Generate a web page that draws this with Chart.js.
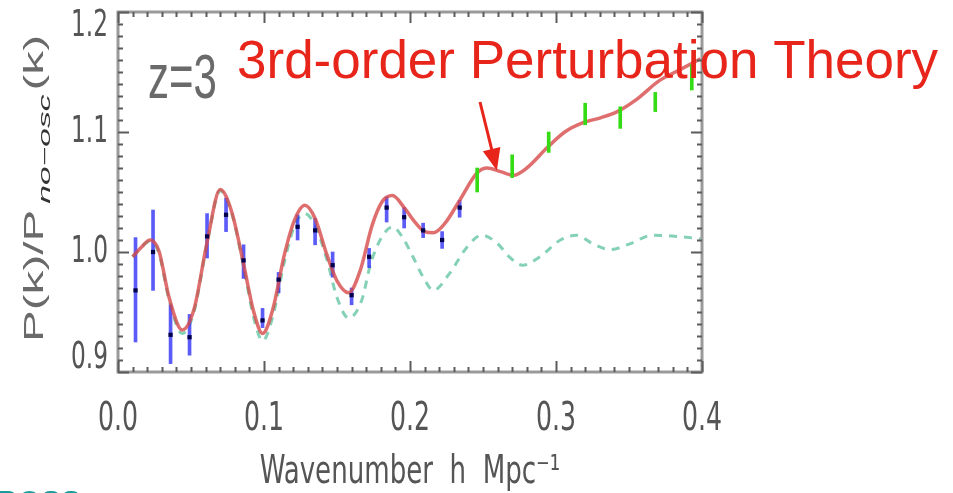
<!DOCTYPE html>
<html>
<head>
<meta charset="utf-8">
<script src="https://cdn.jsdelivr.net/npm/chart.js@4"></script>
<style>
  body { margin: 0; background: #fff; }
  canvas { display: block; }
</style>
</head>
<body>
<canvas id="chart" width="953" height="493"></canvas>
<script>
// 3rd-order PT prediction (solid red)
const kPT = [0.010, 0.016, 0.022, 0.028, 0.035, 0.044, 0.052, 0.061, 0.070, 0.078, 0.086, 0.093, 0.099, 0.106, 0.114, 0.121, 0.128, 0.135, 0.143, 0.150, 0.158, 0.166, 0.174, 0.181, 0.188, 0.196, 0.204, 0.210, 0.216, 0.224, 0.234, 0.246, 0.253, 0.262, 0.271, 0.280, 0.294, 0.306, 0.319, 0.331, 0.342, 0.355, 0.371, 0.385, 0.399];
const pPT = [0.996, 1.004, 1.010, 1.001, 0.962, 0.935, 0.952, 1.008, 1.052, 1.033, 0.990, 0.950, 0.932, 0.952, 0.998, 1.027, 1.039, 1.028, 0.998, 0.976, 0.966, 0.985, 1.022, 1.042, 1.047, 1.037, 1.024, 1.017, 1.016, 1.024, 1.043, 1.066, 1.070, 1.067, 1.064, 1.070, 1.087, 1.100, 1.108, 1.112, 1.117, 1.127, 1.143, 1.152, 1.161];

// linear theory (dashed teal)
const kLin = [0.010, 0.016, 0.022, 0.028, 0.035, 0.044, 0.052, 0.061, 0.070, 0.078, 0.086, 0.093, 0.099, 0.106, 0.114, 0.121, 0.128, 0.135, 0.143, 0.150, 0.158, 0.167, 0.173, 0.180, 0.188, 0.195, 0.202, 0.209, 0.216, 0.227, 0.239, 0.249, 0.260, 0.268, 0.277, 0.289, 0.303, 0.314, 0.325, 0.337, 0.351, 0.366, 0.383, 0.399];
const pLin = [0.996, 1.004, 1.009, 0.999, 0.960, 0.932, 0.950, 1.007, 1.051, 1.032, 0.988, 0.945, 0.926, 0.946, 0.992, 1.022, 1.032, 1.022, 0.994, 0.962, 0.945, 0.960, 0.990, 1.011, 1.021, 1.012, 0.996, 0.979, 0.968, 0.982, 1.004, 1.014, 1.007, 0.996, 0.989, 0.996, 1.010, 1.014, 1.007, 1.002, 1.007, 1.014, 1.013, 1.011];

// simulation points (blue) with error bars
const kSim = [0.012, 0.024, 0.036, 0.049, 0.061, 0.074, 0.086, 0.099, 0.110, 0.123, 0.135, 0.147, 0.160, 0.172, 0.184, 0.196, 0.209, 0.222, 0.234];
const pSim = [0.968, 1.000, 0.931, 0.929, 1.013, 1.031, 0.993, 0.943, 0.977, 1.021, 1.018, 0.989, 0.964, 0.996, 1.037, 1.029, 1.018, 1.010, 1.037];
const loSim = [0.925, 0.968, 0.907, 0.914, 0.995, 1.017, 0.978, 0.937, 0.966, 1.010, 1.006, 0.979, 0.956, 0.987, 1.025, 1.020, 1.012, 1.003, 1.029];
const hiSim = [1.012, 1.035, 0.956, 0.948, 1.032, 1.045, 1.006, 0.953, 0.983, 1.031, 1.028, 1.000, 0.970, 1.003, 1.046, 1.037, 1.024, 1.017, 1.043];

// higher-k points (green error bars only)
const kHigh = [0.246, 0.270, 0.295, 0.320, 0.344, 0.368, 0.393];
const loHigh = [1.050, 1.062, 1.083, 1.106, 1.103, 1.117, 1.135];
const hiHigh = [1.070, 1.081, 1.100, 1.124, 1.121, 1.133, 1.156];

const xTickLabels = ['0.0', '0.1', '0.2', '0.3', '0.4'];
const yTickLabels = ['0.9', '1.0', '1.1', '1.2'];

const titleText = '3rd-order Perturbation Theory';
const redshiftText = 'z=3';
const arrowK = 0.2595, arrowP = 1.068;

const axisFont = "'DejaVu Sans Condensed', 'Liberation Sans Narrow', sans-serif";

function pairs(xs, ys) {
    return xs.map((x, i) => ({ x: x, y: ys[i] }));
}

// the old plot uses tall, narrow glyphs: stretch the axis text a bit
function stretchScaleText(scale, fn, sx, sy, ox, oy) {
    const orig = scale[fn].bind(scale);
    scale[fn] = function(area) {
        const c = this.ctx;
        c.save();
        c.translate(ox, oy);
        c.scale(sx, sy);
        c.translate(-ox, -oy);
        orig(area);
        c.restore();
    };
}

const notesPlugin = {
    id: 'notes',
    beforeDraw(chart) {
        const xs = chart.scales.x, ys = chart.scales.y;
        if (!xs._stretched) {
            stretchScaleText(xs, 'drawLabels', 1, 1.4, 0, xs.top);
            stretchScaleText(xs, 'drawTitle', 1, 1.35, 0, 469);
            xs._stretched = true;
        }
        if (!ys._stretched) {
            stretchScaleText(ys, 'drawLabels', 0.68, 1, ys.right - 10, 0);
            ys._stretched = true;
        }
    },
    afterDraw(chart) {
        const ctx = chart.ctx;
        const a = chart.chartArea;
        const xs = chart.scales.x, ys = chart.scales.y;
        ctx.save();

        // frame
        ctx.strokeStyle = '#9a9a9a';
        ctx.lineWidth = 3;
        ctx.strokeRect(a.left, a.top, a.right - a.left, a.bottom - a.top);

        // inner ticks on all four sides
        ctx.strokeStyle = '#5c5c5c';
        ctx.lineWidth = 2;
        ctx.beginPath();
        for (let i = 0; i <= 40; i++) {
            const px = Math.round(xs.getPixelForValue(i / 100)) + 0.5;
            const len = i % 10 === 0 ? 11 : 5;
            ctx.moveTo(px, a.bottom); ctx.lineTo(px, a.bottom - len);
            ctx.moveTo(px, a.top); ctx.lineTo(px, a.top + len);
        }
        for (let i = 0; i <= 30; i++) {
            const py = Math.round(ys.getPixelForValue(0.9 + i / 100)) + 0.5;
            const len = i % 10 === 0 ? 11 : 5;
            ctx.moveTo(a.left, py); ctx.lineTo(a.left + len, py);
            ctx.moveTo(a.right, py); ctx.lineTo(a.right - len, py);
        }
        ctx.stroke();

        // y axis title P(k)/P_no-osc(k), rotated
        ctx.save();
        ctx.translate(43, 342);
        ctx.rotate(-Math.PI / 2);
        ctx.fillStyle = '#6a6a6a';
        ctx.textBaseline = 'alphabetic';
        ctx.font = '28px "Liberation Sans", Arial, sans-serif';
        let w1 = ctx.measureText('P(k)/P').width * 1.7;
        ctx.save(); ctx.scale(1.7, 1); ctx.fillText('P(k)/P', 0, 0); ctx.restore();
        ctx.font = 'italic 16px "Liberation Sans", Arial, sans-serif';
        let w2 = ctx.measureText('no\u2212osc').width * 2.1;
        ctx.save(); ctx.translate(w1 + 6, 7); ctx.scale(2.1, 1); ctx.fillStyle = '#333'; ctx.fillText('no\u2212osc', 0, 0); ctx.restore();
        ctx.font = '28px "Liberation Sans", Arial, sans-serif';
        ctx.save(); ctx.translate(w1 + 10 + w2, 0); ctx.scale(1.7, 1); ctx.fillText('(k)', 0, 0); ctx.restore();
        ctx.restore();

        // z=3 label
        ctx.save();
        ctx.translate(148, 98);
        ctx.scale(1, 1.5);
        ctx.fillStyle = '#6a6a6a';
        ctx.font = '42px "Liberation Sans", Arial, sans-serif';
        ctx.fillText(redshiftText, 0, 0);
        ctx.restore();

        // red caption
        ctx.fillStyle = '#e8251b';
        ctx.font = '53px "Liberation Sans", Arial, sans-serif';
        ctx.fillText(titleText, 237, 78);

        // arrow to the PT curve
        const tipX = xs.getPixelForValue(arrowK), tipY = ys.getPixelForValue(arrowP);
        const tailX = 480, tailY = 102;
        const dx = tipX - tailX, dy = tipY - tailY, d = Math.hypot(dx, dy);
        const ux = dx / d, uy = dy / d;
        ctx.strokeStyle = '#e8251b';
        ctx.lineWidth = 3;
        ctx.beginPath();
        ctx.moveTo(tailX, tailY);
        ctx.lineTo(tipX - ux * 18, tipY - uy * 18);
        ctx.stroke();
        ctx.beginPath();
        ctx.moveTo(tipX, tipY);
        ctx.lineTo(tipX - ux * 22 - uy * 9, tipY - uy * 22 + ux * 9);
        ctx.lineTo(tipX - ux * 22 + uy * 9, tipY - uy * 22 - ux * 9);
        ctx.closePath();
        ctx.fill();

        // cut-off heading at the bottom edge
        ctx.fillStyle = '#1a9a9a';
        ctx.font = 'bold 30px "Liberation Sans", Arial, sans-serif';
        ctx.fillText('BOSS', -4, 511);

        ctx.restore();
    }
};

function CreateChart() {
    const ctx = document.getElementById('chart');

    new Chart(ctx, {
        type: 'line',
        data: {
            datasets: [
                {
                    type: 'bar',
                    label: 'Simulation error',
                    data: kSim.map((k, i) => ({ x: k, y: [loSim[i], hiSim[i]] })),
                    backgroundColor: 'rgba(50,50,245,0.8)',
                    barThickness: 3,
                    grouped: false,
                    order: 3
                },
                {
                    type: 'bar',
                    label: 'High-k error',
                    data: kHigh.map((k, i) => ({ x: k, y: [loHigh[i], hiHigh[i]] })),
                    backgroundColor: '#35dc16',
                    barThickness: 3,
                    grouped: false,
                    order: 0
                },
                {
                    label: 'Linear',
                    data: pairs(kLin, pLin),
                    borderColor: 'rgba(80,190,150,0.7)',
                    borderWidth: 3,
                    borderDash: [8, 7],
                    pointRadius: 0,
                    cubicInterpolationMode: 'monotone',
                    order: 4
                },
                {
                    label: '3rd-order PT',
                    data: pairs(kPT, pPT),
                    borderColor: 'rgba(215,75,75,0.8)',
                    borderWidth: 3.5,
                    pointRadius: 0,
                    cubicInterpolationMode: 'monotone',
                    order: 2
                },
                {
                    type: 'scatter',
                    label: 'Simulation',
                    data: pairs(kSim, pSim),
                    pointStyle: 'rect',
                    pointRadius: 3,
                    backgroundColor: '#00004a',
                    borderWidth: 0,
                    order: 1
                }
            ]
        },
        options: {
            responsive: false,
            animation: false,
            devicePixelRatio: 1,
            layout: { padding: { top: 12, right: 251, left: 0, bottom: 0 } },
            plugins: { legend: { display: false }, tooltip: { enabled: false } },
            scales: {
                x: {
                    type: 'linear',
                    min: 0,
                    max: 0.4,
                    offset: false,
                    grid: { display: false, drawTicks: false },
                    border: { display: false },
                    ticks: {
                        stepSize: 0.1,
                        padding: 17,
                        maxRotation: 0,
                        color: '#555',
                        font: { family: axisFont, size: 28 },
                        callback: function(value, index) { return xTickLabels[index]; }
                    },
                    title: {
                        display: true,
                        text: 'Wavenumber  h  Mpc\u207B\u00B9',
                        color: '#555',
                        font: { family: axisFont, size: 29 },
                        padding: { top: 0, bottom: 4 }
                    },
                    afterFit: function(s) {
                        s.height = 121;
                        s.paddingLeft = 0;
                        s.paddingRight = 0;
                    }
                },
                y: {
                    min: 0.9,
                    max: 1.2,
                    grid: { display: false, drawTicks: false },
                    border: { display: false },
                    ticks: {
                        stepSize: 0.1,
                        padding: 10,
                        color: '#555',
                        font: { family: axisFont, size: 38, lineHeight: 0.75 },
                        // end labels sit inside the frame, as in the original
                        callback: function(value, index, ticks) {
                            const label = yTickLabels[index];
                            if (index === 0) return [label, ''];
                            if (index === ticks.length - 1) return ['', label];
                            return label;
                        }
                    },
                    afterFit: function(s) {
                        s.width = 118;
                        s.paddingTop = 0;
                        s.paddingBottom = 0;
                    }
                }
            }
        },
        plugins: [notesPlugin]
    });
}

CreateChart();
</script>
</body>
</html>
